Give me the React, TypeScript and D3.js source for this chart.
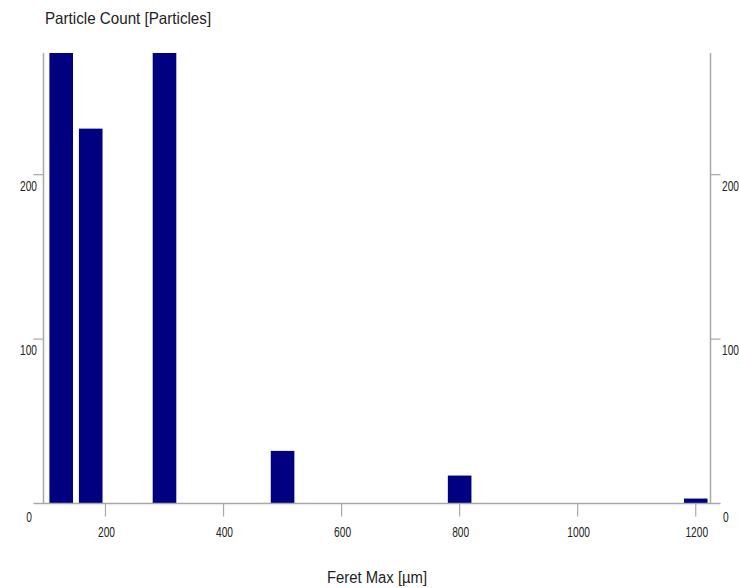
import React from "react";
import * as d3 from "d3";

const binCenters = [125, 175, 300, 500, 800, 1200];
const counts = [300, 228, 300, 32, 17, 3];
const binWidth = 40;
const xTicks = [200, 400, 600, 800, 1000, 1200];
const yTicks = [100, 200];

const W = 740;
const H = 588;
const FONT = "'Liberation Sans', Arial, sans-serif";

function T(props: {
  x: number;
  y: number;
  size: number;
  sx: number;
  anchor?: "start" | "middle" | "end";
  children: React.ReactNode;
}) {
  return (
    <text
      transform={`translate(${props.x},${props.y}) scale(${props.sx},1)`}
      fontSize={props.size}
      textAnchor={props.anchor || "start"}
      fill="#222"
    >
      {props.children}
    </text>
  );
}

export default function App() {
  const x = d3.scaleLinear().domain([95, 1225]).range([43.5, 710.5]);
  const y = d3.scaleLinear().domain([0, 274]).range([503.5, 53]);
  const axisColor = "#a8a8a8";
  const barColor = "#000080";
  const top = y(274);
  const base = y(0);
  const tickSx = 0.68;
  const tickSize = 15;

  return (
    <svg
      width={W}
      height={H}
      style={{ position: "absolute", left: 0, top: 0, background: "#fff" }}
      fontFamily={FONT}
    >
      <defs>
        <clipPath id="plot">
          <rect x={x(95)} y={top} width={x(1225) - x(95)} height={base - top} />
        </clipPath>
      </defs>
      <rect width={W} height={H} fill="#fff" />
      <T x={45} y={24} size={16.5} sx={0.92}>
        Particle Count [Particles]
      </T>
      <g clipPath="url(#plot)">
        {binCenters.map((c, i) => (
          <rect
            key={i}
            x={x(c - binWidth / 2)}
            y={y(counts[i])}
            width={x(c + binWidth / 2) - x(c - binWidth / 2)}
            height={base - y(counts[i])}
            fill={barColor}
          />
        ))}
      </g>
      <line x1={x(95)} x2={x(95)} y1={top} y2={base} stroke={axisColor} strokeWidth={1.5} />
      <line x1={x(1225)} x2={x(1225)} y1={top} y2={base} stroke={axisColor} strokeWidth={1.5} />
      <line x1={x(95) - 10} x2={x(1225) + 10} y1={base} y2={base} stroke={axisColor} strokeWidth={1.5} />
      {yTicks.map((t) => (
        <g key={t}>
          <line x1={x(95) - 10} x2={x(95)} y1={y(t)} y2={y(t)} stroke={axisColor} strokeWidth={1.2} />
          <line x1={x(1225)} x2={x(1225) + 10} y1={y(t)} y2={y(t)} stroke={axisColor} strokeWidth={1.2} />
          <T x={37} y={y(t) + 16} size={tickSize} sx={tickSx} anchor="end">
            {t}
          </T>
          <T x={722} y={y(t) + 16} size={tickSize} sx={tickSx}>
            {t}
          </T>
        </g>
      ))}
      <T x={32} y={base + 18} size={tickSize} sx={tickSx} anchor="end">0</T>
      <T x={723} y={base + 18} size={tickSize} sx={tickSx}>0</T>
      {xTicks.map((t) => (
        <g key={t}>
          <line x1={x(t)} x2={x(t)} y1={base} y2={base + 13} stroke={axisColor} strokeWidth={1.2} />
          <T x={x(t) + 1} y={base + 33} size={tickSize} sx={tickSx} anchor="middle">
            {t}
          </T>
        </g>
      ))}
      <T x={377} y={583} size={16.5} sx={0.9} anchor="middle">
        Feret Max [µm]
      </T>
    </svg>
  );
}
